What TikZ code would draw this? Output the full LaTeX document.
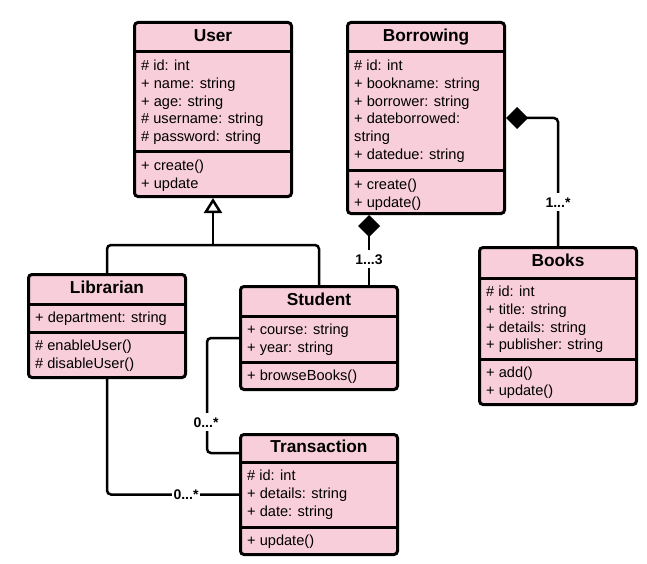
\documentclass[tikz,border=0pt]{standalone}
\usepackage{fontspec}
\setmainfont{Liberation Sans}
\usetikzlibrary{arrows.meta,calc}
\definecolor{classpink}{RGB}{248,206,219}
\tikzset{
  classbox/.style={draw=black, fill=classpink, line width=3pt, rounded corners=3.5pt,
    inner sep=0pt, minimum width=157pt, anchor=north west},
  sepline/.style={line width=3pt},
  ctitle/.style={font=\fontsize{17.3}{20}\selectfont\bfseries, text height=12.3pt,
    text depth=0pt, inner sep=0pt},
  members/.style={font=\fontsize{14.6}{17.7}\selectfont, align=left, anchor=north west,
    inner sep=0pt},
  conn/.style={line width=2.5pt, rounded corners=4pt},
  mult/.style={font=\fontsize{14}{16}\selectfont\bfseries, fill=white, inner xsep=1.5pt,
    inner ysep=4pt, text height=10pt, text depth=0pt},
  comptip/.style={{Diamond[length=22pt,width=22pt]}-},
}
% #1 name, #2 left, #3 top, #4 bottom, #5 sep1, #6 sep2, #7 title, #8 attrs, #9 methods
\newcommand{\umlclass}[9]{%
  \node[classbox, minimum height={#4-#3-3}] (#1) at (#2,#3) {};
  \draw[sepline] (#2,#5) -- ++(160,0);
  \draw[sepline] (#2,#6) -- ++(160,0);
  \node[ctitle] (#1-title) at ({#2+80},{(#3+#5)/2-1.5}) {#7};
  \node[members] (#1-attrs) at ({#2+8},{#5+8}) {#8};
  \node[members] (#1-methods) at ({#2+8},{#6+8}) {#9};
}
\begin{document}
\begin{tikzpicture}[x=1pt,y=-1pt]
\useasboundingbox (0,0) rectangle (647,564);

\umlclass{user}{133}{21}{198}{52}{152}{User}%
  {\# id: int\\+ name: string\\+ age: string\\\# username: string\\\# password: string}%
  {+ create()\\+ update}
\umlclass{borrowing}{346}{21}{215}{52}{171}{Borrowing}%
  {\# id: int\\+ bookname: string\\+ borrower: string\\+ dateborrowed:\\string\\+ datedue: string}%
  {+ create()\\+ update()}
\umlclass{librarian}{27}{273}{379}{304}{332}{Librarian}%
  {+ department: string}%
  {\# enableUser()\\\# disableUser()}
\umlclass{student}{239}{285}{391}{316}{362}{Student}%
  {+ course: string\\+ year: string}%
  {+ browseBooks()}
\umlclass{transaction}{239}{433}{556}{462}{527}{Transaction}%
  {\# id: int\\+ details: string\\+ date: string}%
  {+ update()}
\umlclass{books}{478}{246}{406}{278}{359}{Books}%
  {\# id: int\\+ title: string\\+ details: string\\+ publisher: string}%
  {+ add()\\+ update()}

% generalization
\coordinate (gj) at (213,245);
\draw[conn] (librarian.north) |- (gj) -| (student.north);
\draw[line width=2.5pt, -{Triangle[open, length=15pt, width=18pt, fill=white, line width=2.5pt]}]
  (gj) -- (user.south);

% compositions
\coordinate (bs) at ([xshift=23pt]borrowing.south west);
\draw[conn, comptip] (bs) -- (bs |- student.north);
\draw[conn, comptip] (borrowing.east) -| (books.north);

% associations
\draw[conn] (student.west) -- ++(-32,0) |- ([yshift=-20pt]transaction.north west);
\draw[conn] (librarian.south) |- (transaction.west);

% multiplicities
\node[mult] (m1) at (369,259) {1...3};
\node[mult] (m2) at (558,202) {1...*};
\node[mult] (m3) at (206,422) {0...*};
\node[mult] (m4) at (186,0 |- transaction.west) {0...*};
\end{tikzpicture}
\end{document}
